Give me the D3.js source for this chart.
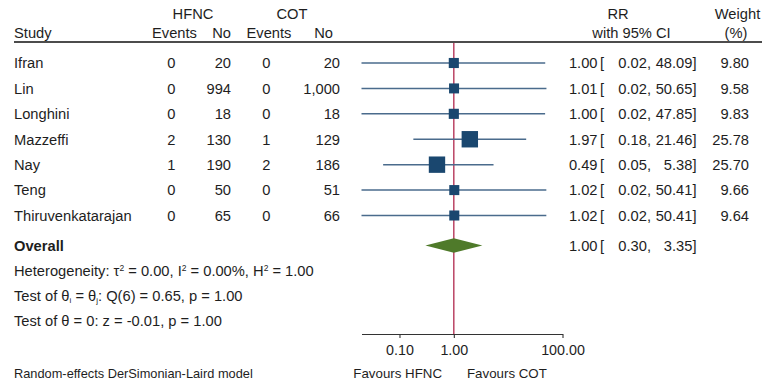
<!DOCTYPE html>
<html>
<head>
<meta charset="utf-8">
<script src="https://cdn.jsdelivr.net/npm/d3@7"></script>
<style>
  body { margin: 0; background: #fff; }
  svg { font-family: "Liberation Sans", Arial, sans-serif; fill: #1e1e1e; }
  .axis text { font-family: "Liberation Sans", Arial, sans-serif; font-size: 14.3px; fill: #1e1e1e; }
</style>
</head>
<body>
<div id="forest"></div>
<script>
// study table
const studies = ["Ifran", "Lin", "Longhini", "Mazzeffi", "Nay", "Teng", "Thiruvenkatarajan"];
const hfncEvents = [0, 0, 0, 2, 1, 0, 0];
const hfncNo = [20, 994, 18, 130, 190, 50, 65];
const cotEvents = [0, 0, 0, 1, 2, 0, 0];
const cotNo = [20, 1000, 18, 129, 186, 51, 66];
const rr = [1.00, 1.01, 1.00, 1.97, 0.49, 1.02, 1.02];
const ciLow = [0.02, 0.02, 0.02, 0.18, 0.05, 0.02, 0.02];
const ciHigh = [48.09, 50.65, 47.85, 21.46, 5.38, 50.41, 50.41];
const weights = [9.80, 9.58, 9.83, 25.78, 25.70, 9.66, 9.64];

// pooled estimate
const overallRR = 1.00, overallLow = 0.30, overallHigh = 3.35;

// axis ticks
const xTicks = [0.1, 1, 100];

const width = 765, height = 380;
const fs = 14.7;
const ink = "#1e1e1e";

const svg = d3.select("#forest")
  .append("svg")
    .attr("width", width)
    .attr("height", height);

// log scale for RR, point scale for study rows
const x = d3.scaleLog()
  .domain([0.02, 100])
  .range([361.5, 562.5]);

const y = d3.scalePoint()
  .domain(studies)
  .range([63, 215.5]);

const yOverall = 245.5;
const axisY = 334;

const f2 = d3.format(".2f");
const fN = d3.format(",");

// side of square marker grows with sqrt(weight)
const side = d3.scaleSqrt()
  .domain([0, 25.78])
  .range([0, 16.4]);

function txt(xPos, yPos, s, anchor, size, weight) {
  return svg.append("text")
    .attr("x", xPos)
    .attr("y", yPos)
    .attr("dy", "0.36em")
    .attr("text-anchor", anchor || "start")
    .attr("font-size", size || fs)
    .attr("font-weight", weight || "normal")
    .attr("fill", ink)
    .text(s);
}

// headers
txt(193, 13.5, "HFNC", "middle");
txt(292, 13.5, "COT", "middle");
txt(14, 32.5, "Study");
txt(174.5, 32.5, "Events", "middle");
txt(231, 32.5, "No", "end");
txt(269, 32.5, "Events", "middle");
txt(333, 32.5, "No", "end");
txt(618, 13.5, "RR", "middle");
txt(631.5, 32.5, "with 95% CI", "middle");
txt(737.5, 13.5, "Weight", "middle");
txt(736, 32.5, "(%)", "middle");

svg.append("line")
  .attr("x1", 14).attr("x2", 762)
  .attr("y1", 42).attr("y2", 42)
  .attr("stroke", "#111")
  .attr("stroke-width", 1.4);

// null line
svg.append("line")
  .attr("x1", x(1)).attr("x2", x(1))
  .attr("y1", 43).attr("y2", axisY)
  .attr("stroke", "#b0284e")
  .attr("stroke-width", 1.3);

// table rows
studies.forEach((s, i) => {
  const yy = y(s);
  txt(14, yy, s);
  txt(175.5, yy, hfncEvents[i], "end");
  txt(231, yy, fN(hfncNo[i]), "end");
  txt(270.5, yy, cotEvents[i], "end");
  txt(340, yy, fN(cotNo[i]), "end");
  txt(597.5, yy, f2(rr[i]), "end");
  txt(600, yy, "[");
  txt(651, yy, f2(ciLow[i]) + ",", "end");
  txt(696.5, yy, f2(ciHigh[i]) + "]", "end");
  txt(749, yy, f2(weights[i]), "end");
});

// CI lines
svg.selectAll(".ci")
  .data(studies)
  .join("line")
    .attr("class", "ci")
    .attr("x1", (d, i) => x(ciLow[i]))
    .attr("x2", (d, i) => x(ciHigh[i]))
    .attr("y1", d => y(d))
    .attr("y2", d => y(d))
    .attr("stroke", "#4a6b8c")
    .attr("stroke-width", 1.5);

// weighted squares
svg.selectAll(".pt")
  .data(studies)
  .join("rect")
    .attr("class", "pt")
    .attr("x", (d, i) => x(rr[i]) - side(weights[i]) / 2)
    .attr("y", (d, i) => y(d) - side(weights[i]) / 2)
    .attr("width", (d, i) => side(weights[i]))
    .attr("height", (d, i) => side(weights[i]))
    .attr("fill", "#1a476f");

// overall row
txt(14, yOverall + 0.5, "Overall", "start", fs, "bold");
txt(597.5, yOverall, f2(overallRR), "end");
txt(600, yOverall, "[");
txt(651, yOverall, f2(overallLow) + ",", "end");
txt(696.5, yOverall, f2(overallHigh) + "]", "end");

svg.append("path")
  .attr("d", `M${x(overallLow)},${yOverall} L${x(overallRR)},${yOverall - 7.2} L${x(overallHigh)},${yOverall} L${x(overallRR)},${yOverall + 7.2} Z`)
  .attr("fill", "#4f7a2a");

// heterogeneity + tests
const het = txt(14, 270.5, "Heterogeneity: τ");
het.append("tspan").attr("font-size", 8.5).attr("baseline-shift", "60%").text("2");
het.append("tspan").text(" = 0.00, I");
het.append("tspan").attr("font-size", 8.5).attr("baseline-shift", "60%").text("2");
het.append("tspan").text(" = 0.00%, H");
het.append("tspan").attr("font-size", 8.5).attr("baseline-shift", "60%").text("2");
het.append("tspan").text(" = 1.00");

const t1 = txt(14, 295.5, "Test of θ");
t1.append("tspan").attr("font-size", 8).attr("baseline-shift", "-20%").text("i");
t1.append("tspan").text(" = θ");
t1.append("tspan").attr("font-size", 8).attr("baseline-shift", "-20%").text("j");
t1.append("tspan").text(": Q(6) = 0.65, p = 1.00");

txt(14, 320.5, "Test of θ = 0: z = -0.01, p = 1.00");

// x axis
const xAxis = svg.append("g")
  .attr("class", "axis")
  .attr("transform", `translate(0,${axisY})`)
  .call(d3.axisBottom(x)
    .tickValues(xTicks)
    .tickFormat(f2)
    .tickSizeInner(4)
    .tickSizeOuter(0)
    .tickPadding(7));
xAxis.select(".domain").attr("stroke", "#333").attr("stroke-width", 1.1);
xAxis.selectAll(".tick line").attr("stroke", "#333").attr("stroke-width", 1.1);

txt(442, 373, "Favours HFNC", "end", 13.3);
txt(467, 373, "Favours COT", "start", 13.3);

txt(14, 373.5, "Random-effects DerSimonian-Laird model", "start", 12.8);
</script>
</body>
</html>
